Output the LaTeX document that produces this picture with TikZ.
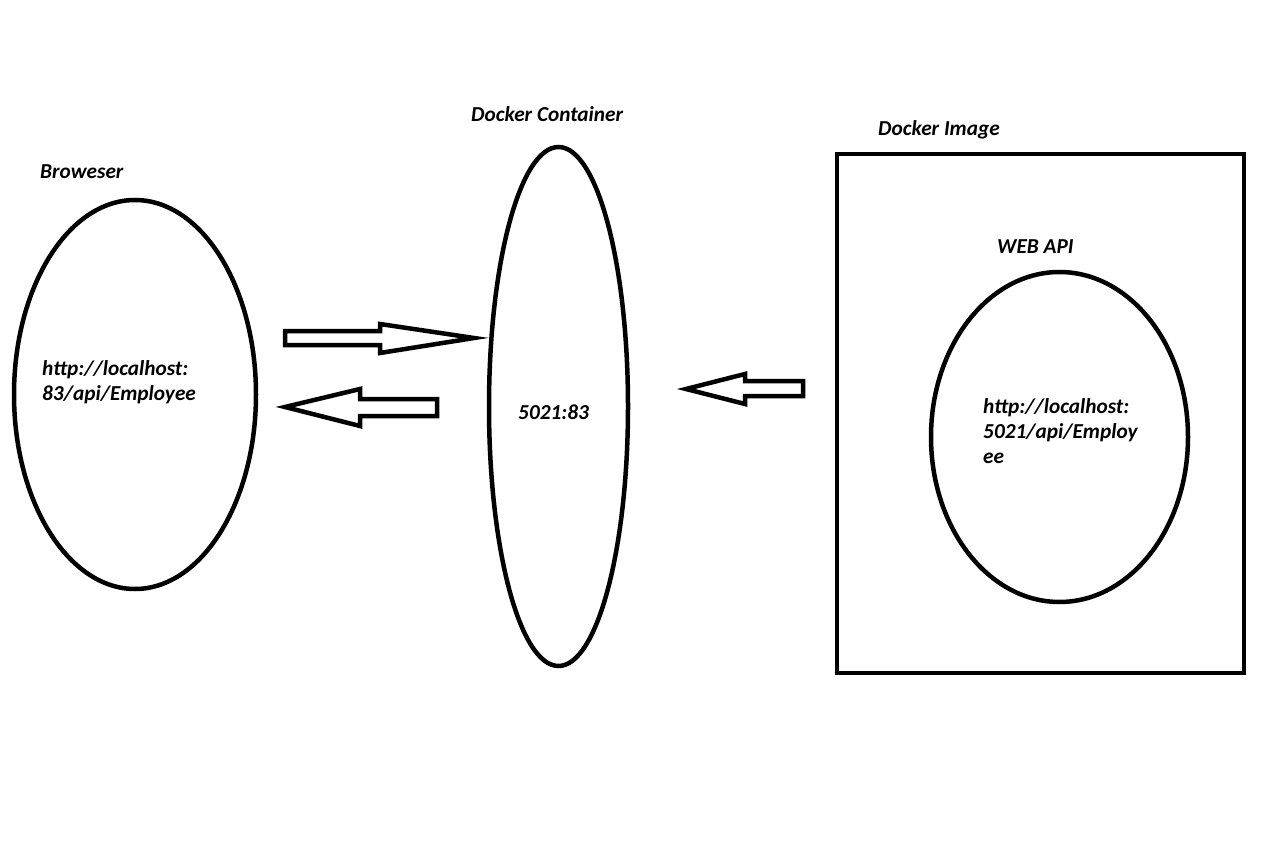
\documentclass[tikz,border=0pt]{standalone}
\usepackage{fontspec}
\setmainfont{Carlito}
\usetikzlibrary{shapes.geometric}

\tikzset{
  outline/.style={draw, line width=4.5pt},
  lbl/.style={font=\fontsize{21.3}{25}\selectfont\bfseries\itshape, inner sep=0pt, align=left},
  blockarrow/.style={draw, line width=4.5pt, line join=miter},
}

\begin{document}
\begin{tikzpicture}[x=1pt, y=-1pt]

  \useasboundingbox (0,0) rectangle (1270,861);

  % shapes
  \node [outline, ellipse, minimum width=242pt, minimum height=389pt] (browser) at (135,394.5) {};
  \node [outline, ellipse, minimum width=139pt, minimum height=519pt] (container) at (558.5,406.5) {};
  \node [outline, rectangle, minimum width=407pt, minimum height=519pt] (image) at (1040.5,413.5) {};
  \node [outline, ellipse, minimum width=257pt, minimum height=330pt] (webapi) at (1059.5,437) {};

  % titles
  \node [lbl, anchor=base west] (browsertitle) at (40,179) {Broweser};
  \node [lbl, anchor=base west] (containertitle) at (471,122) {Docker Container};
  \node [lbl, anchor=base west] (imagetitle) at (878,136) {Docker Image};
  \node [lbl, anchor=base west] (webapititle) at (997,254) {WEB API};

  % texts
  \node [lbl, anchor=north west] (browsertext) at (42,360) {http://localhost:\\83/api/Employee};
  \node [lbl, anchor=base west] (containertext) at (518,419) {5021:83};
  \node [lbl, anchor=north west] (webapitext) at (983,398) {http://localhost:\\5021/api/Employ\\ee};

  % arrows
  \draw [blockarrow] (285,331) -- (380,331) -- (380,324) -- (474,338)
    -- (380,353) -- (380,345) -- (285,345) -- cycle;
  \draw [blockarrow] (285,407) -- (360,389) -- (360,399) -- (437,399)
    -- (437,416) -- (360,416) -- (360,426) -- cycle;
  \draw [blockarrow] (686,389) -- (745,374) -- (745,381) -- (803,381)
    -- (803,396) -- (745,396) -- (745,404) -- cycle;

\end{tikzpicture}
\end{document}
